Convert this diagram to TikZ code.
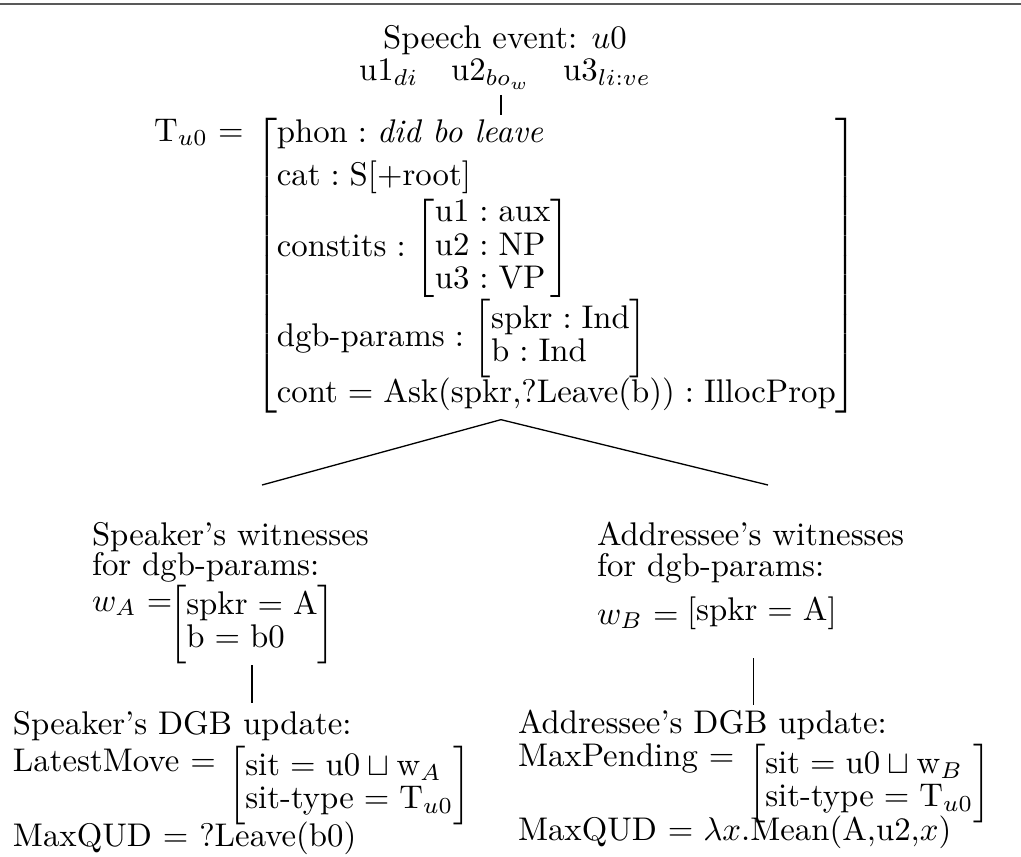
\documentclass[tikz,border=0pt]{standalone}
\usepackage{amsmath,amssymb}
\usetikzlibrary{calc}
\thickmuskip=5.5mu plus 5mu
\renewcommand{\arraystretch}{0.85}
\begin{document}
\begin{tikzpicture}[x=0.305pt,y=-0.305pt,
  txt/.style={inner sep=0pt, outer sep=0pt},
  edge/.style={line width=0.4pt}]
\useasboundingbox (0,0) rectangle (1021,856);
\draw[black!65, line width=0.7pt] (0,4) -- (1021,4);
% top
\node[txt] (speech) at (505,40) {Speech event: $u0$};
\node[txt] (utts) at (505,74) {u1$_{di}$\quad u2$_{bo_w}$\quad u3$_{li:ve}$};
% main AVM
\node[txt, anchor=north west] (avm) at (255,118) {$\left[\begin{array}{@{}l@{}}
 \text{phon} : \textit{did bo leave}\\[2.5pt]
 \text{cat} : \text{S[+root]}\\[1pt]
 \text{constits} : \left[\begin{array}{@{}l@{}}\text{u1} : \text{aux}\\ \text{u2} : \text{NP}\\ \text{u3} : \text{VP}\end{array}\right]\\[4pt]
 \text{dgb-params} : \left[\begin{array}{@{}l@{}}\text{spkr} : \text{Ind}\\ \text{b} : \text{Ind}\end{array}\right]\\[3.5pt]
 \text{cont} = \text{Ask(spkr,?Leave(b))} : \text{IllocProp}
 \end{array}\right]$};
\node[txt, anchor=base east] (tu0) at ([xshift=-3.5pt]avm.west |- 0,141) {$\mathrm{T}_{u0} =$};
\coordinate (mid) at ($(tu0.west)!0.5!(avm.east)$);
\coordinate (apex) at ([xshift=-1.5pt,yshift=-2pt]avm.south -| mid);
\coordinate (lend) at (262,485);
\coordinate (rend) at (768,485);
% left witnesses
\node[txt, anchor=north west, align=left] (spkw) at (92,522) {Speaker's witnesses\\[-2.6pt] for dgb-params:};
\node[txt, anchor=base west] (wal) at (92,611) {$w_A =$};
\node[txt, anchor=north west] (wam) at (169,585) {$\left[\begin{array}{@{}l@{}}\text{spkr} = \text{A}\\ \text{b} = \text{b0}\end{array}\right]$};
% right witnesses
\node[txt, anchor=north west, align=left] (addw) at (597,522) {Addressee's witnesses\\[-2.6pt] for dgb-params:};
\node[txt, anchor=base west] (wbl) at (597,624) {$w_B =$};
\node[txt, anchor=north west] (wbm) at (687,597) {$\left[\begin{array}{@{}l@{}}\text{spkr} = \text{A}\end{array}\right]$};
% left update
\node[txt, anchor=base west] (spkd) at (13,734) {Speaker's DGB update:};
\node[txt, anchor=base west] (lml) at (13,771) {LatestMove $=$};
\node[txt, anchor=north west] (lmm) at (228,746) {$\left[\begin{array}{@{}l@{}}\text{sit} = \text{u0} \sqcup \text{w}_A\\ \text{sit-type} = \mathrm{T}_{u0}\end{array}\right]$};
\node[txt, anchor=base west] (mq1) at (13,846) {MaxQUD $=$ ?Leave(b0)};
% right update
\node[txt, anchor=base west] (addd) at (518,733) {Addressee's DGB update:};
\node[txt, anchor=base west] (mpl) at (518,766) {MaxPending $=$};
\node[txt, anchor=north west] (mpm) at (748,744) {$\left[\begin{array}{@{}l@{}}\text{sit} = \text{u0} \sqcup \text{w}_B\\ \text{sit-type} = \mathrm{T}_{u0}\end{array}\right]$};
\node[txt, anchor=base west] (mq2) at (518,840) {MaxQUD $= \lambda x.$Mean(A,u2,$x$)};
% connectors
\coordinate (wbtop) at ([xshift=-2.5pt,yshift=-8.5pt]wbm.south);
\draw[edge] ([yshift=-1.8pt]utts.south -| apex) -- ([yshift=1pt]avm.north -| apex);
\draw[edge] (apex) -- (lend);
\draw[edge] (apex) -- (rend);
\draw[edge] ([yshift=-0.5pt]wam.south) -- ([yshift=2.5pt]spkd.north -| wam.south);
\draw[edge] (wbtop) -- ([yshift=1.5pt]addd.north -| wbtop);
\end{tikzpicture}
\end{document}
